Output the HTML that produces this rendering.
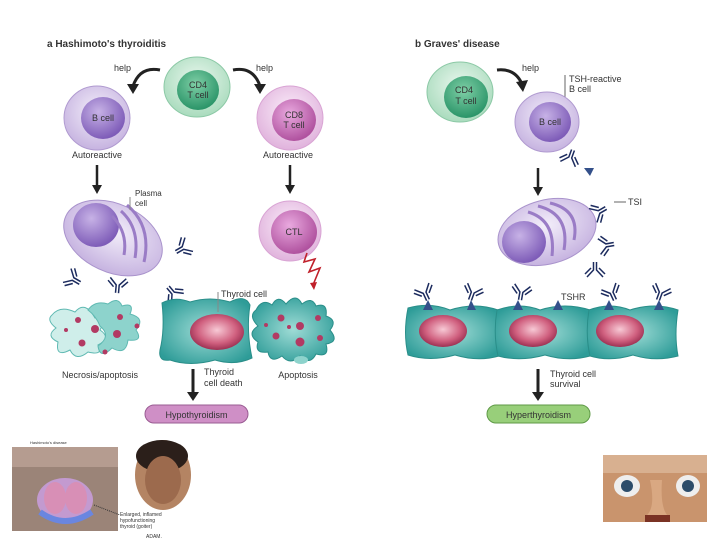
<!DOCTYPE html>
<html><head><meta charset="utf-8"><style>
html,body{margin:0;padding:0;background:#fff;width:720px;height:540px;overflow:hidden}
svg{display:block}
text{font-family:"Liberation Sans",sans-serif;fill:#333}
</style></head><body>
<svg width="720" height="540" viewBox="0 0 720 540" xmlns="http://www.w3.org/2000/svg">
<defs>
<radialGradient id="gOut" cx="50%" cy="40%" r="60%"><stop offset="0" stop-color="#eaf7ee"/><stop offset="1" stop-color="#a9dbbd"/></radialGradient>
<radialGradient id="gIn" cx="45%" cy="35%" r="65%"><stop offset="0" stop-color="#7fcfa6"/><stop offset="1" stop-color="#2a9468"/></radialGradient>
<radialGradient id="pOut" cx="50%" cy="40%" r="60%"><stop offset="0" stop-color="#f3eefa"/><stop offset="1" stop-color="#c6b3e0"/></radialGradient>
<radialGradient id="pIn" cx="40%" cy="35%" r="65%"><stop offset="0" stop-color="#c7b2e6"/><stop offset="1" stop-color="#7e5cb8"/></radialGradient>
<radialGradient id="mOut" cx="50%" cy="40%" r="60%"><stop offset="0" stop-color="#fbeefa"/><stop offset="1" stop-color="#e0b2dc"/></radialGradient>
<radialGradient id="mIn" cx="40%" cy="35%" r="65%"><stop offset="0" stop-color="#e9a9df"/><stop offset="1" stop-color="#b0529f"/></radialGradient>
<radialGradient id="nuc" cx="50%" cy="45%" r="60%"><stop offset="0" stop-color="#f7c9d5"/><stop offset="0.6" stop-color="#d0607f"/><stop offset="1" stop-color="#8f2447"/></radialGradient>
<radialGradient id="thy" cx="50%" cy="50%" r="60%"><stop offset="0" stop-color="#9fdcd6"/><stop offset="1" stop-color="#2e9c98"/></radialGradient>
<g id="ab" stroke="#1c2b5e" stroke-width="1.5" fill="none">
<path d="M-1.5 0 V-8 L-8 -15 M1.5 0 V-8 L8 -15 M-4 -6 L-10 -12 M4 -6 L10 -12"/>
</g>
<marker id="ah" markerWidth="8" markerHeight="8" refX="4" refY="4" orient="auto"><path d="M0 0 L8 4 L0 8 z" fill="#222"/></marker>
</defs>

<!-- ===== a ===== -->
<text x="47" y="47" font-size="10" font-weight="bold" fill="#222">a  Hashimoto's thyroiditis</text>
<text x="114" y="71" font-size="9">help</text>
<text x="256" y="71" font-size="9">help</text>
<path d="M160 70 Q140 66 133 86" stroke="#222" stroke-width="3" fill="none"/>
<path d="M127 84 L133 94 L139 84z" fill="#222"/>
<path d="M233 70 Q253 66 260 86" stroke="#222" stroke-width="3" fill="none"/>
<path d="M254 84 L260 94 L266 84z" fill="#222"/>

<ellipse cx="197" cy="87" rx="33" ry="30" fill="url(#gOut)" stroke="#8cc9a6"/>
<ellipse cx="198" cy="90" rx="21" ry="20" fill="url(#gIn)"/>
<text x="198" y="88" font-size="9" text-anchor="middle" fill="#1d3f2d">CD4</text>
<text x="198" y="98" font-size="9" text-anchor="middle" fill="#1d3f2d">T cell</text>

<ellipse cx="97" cy="118" rx="33" ry="32" fill="url(#pOut)" stroke="#b09ad0"/>
<ellipse cx="103" cy="118" rx="22" ry="21" fill="url(#pIn)"/>
<text x="103" y="121" font-size="9" text-anchor="middle" fill="#222">B cell</text>

<ellipse cx="290" cy="118" rx="33" ry="32" fill="url(#mOut)" stroke="#d9a4d4"/>
<ellipse cx="294" cy="120" rx="22" ry="21" fill="url(#mIn)"/>
<text x="294" y="118" font-size="9" text-anchor="middle" fill="#222">CD8</text>
<text x="294" y="128" font-size="9" text-anchor="middle" fill="#222">T cell</text>

<text x="97" y="158" font-size="9" text-anchor="middle">Autoreactive</text>
<text x="288" y="158" font-size="9" text-anchor="middle">Autoreactive</text>
<path d="M97 165 V186" stroke="#222" stroke-width="2.5"/><path d="M92 185 L97 194 L102 185z" fill="#222"/>
<path d="M290 165 V186" stroke="#222" stroke-width="2.5"/><path d="M285 185 L290 194 L295 185z" fill="#222"/>

<!-- plasma cell -->
<ellipse cx="113" cy="238" rx="52" ry="34" transform="rotate(25 113 238)" fill="url(#pOut)" stroke="#a993cc"/>
<ellipse cx="96" cy="225" rx="23" ry="22" fill="url(#pIn)"/>
<g stroke="#9a7cc6" stroke-width="3" fill="none">
<path d="M121 211 Q140 228 135 258"/><path d="M127 205 Q152 226 144 262"/><path d="M112 216 Q128 232 124 255"/>
</g>
<line x1="130" y1="197" x2="130" y2="210" stroke="#888"/>
<text x="135" y="196" font-size="8">Plasma</text>
<text x="135" y="206" font-size="8">cell</text>

<!-- CTL -->
<ellipse cx="290" cy="231" rx="31" ry="30" fill="url(#mOut)" stroke="#d9a4d4"/>
<ellipse cx="294" cy="232" rx="23" ry="22" fill="url(#mIn)"/>
<text x="294" y="235" font-size="9" text-anchor="middle" fill="#222">CTL</text>
<path d="M307 253 L304 262 L315 259 L309 272 L320 268 L313 285" stroke="#c0202a" stroke-width="1.6" fill="none"/>
<path d="M310 283 L314 290 L317 282z" fill="#c0202a"/>

<!-- antibodies a -->
<use href="#ab" transform="translate(80,283) rotate(-60)"/>
<use href="#ab" transform="translate(117,293) rotate(5)"/>
<use href="#ab" transform="translate(176,252) rotate(60)"/>
<use href="#ab" transform="translate(168,287) rotate(140)"/>

<!-- necrosis -->
<g fill="#cfeeea" stroke="#5fb9b2" stroke-width="1">
<path d="M52 315 Q60 305 75 312 Q85 300 95 318 Q110 312 100 330 Q112 338 98 345 Q104 356 88 352 Q76 362 70 350 Q55 358 58 342 Q45 336 56 328 Q46 320 52 315z"/>
<path d="M88 310 Q95 300 108 304 Q118 296 122 306 Q135 302 130 314 Q146 318 136 330 Q144 342 128 340 Q126 356 112 348 Q100 360 98 346 Q112 336 100 326 Q96 316 88 310z" fill="#8dd3cc"/>
</g>
<g fill="#b23a63"><circle cx="78" cy="320" r="3"/><circle cx="95" cy="329" r="4"/><circle cx="120" cy="317" r="3"/><circle cx="117" cy="334" r="4"/><circle cx="82" cy="343" r="3.5"/><circle cx="137" cy="326" r="2.5"/><circle cx="105" cy="352" r="2.5"/><circle cx="66" cy="330" r="2"/></g>

<!-- thyroid cell a -->
<path d="M162 303 Q175 296 190 302 Q210 296 230 302 Q245 294 250 305 Q246 330 252 358 Q235 366 215 360 Q190 367 170 360 Q158 362 160 350 Q165 330 162 303z" fill="url(#thy)" stroke="#2a8e89"/>
<ellipse cx="217" cy="332" rx="27" ry="18" fill="url(#nuc)"/>
<line x1="218" y1="292" x2="218" y2="312" stroke="#888"/>
<text x="221" y="297" font-size="9">Thyroid cell</text>

<!-- apoptosis -->
<path d="M256 310 Q262 298 272 305 Q278 294 286 304 Q296 292 302 304 Q312 296 316 306 Q328 302 326 316 Q338 320 330 330 Q340 342 326 344 Q330 358 316 354 Q310 366 300 356 Q290 366 282 356 Q270 364 268 352 Q254 354 258 342 Q246 334 258 326 Q248 316 256 310z" fill="url(#thy)" stroke="#2a8e89"/>
<ellipse cx="301" cy="360" rx="7" ry="4" fill="#8dd3cc"/>
<g fill="#b23a63"><circle cx="281" cy="318" r="3.5"/><circle cx="300" cy="326" r="4"/><circle cx="318" cy="318" r="3"/><circle cx="276" cy="336" r="3.5"/><circle cx="300" cy="342" r="4.5"/><circle cx="320" cy="338" r="3"/><circle cx="289" cy="327" r="2"/><circle cx="266" cy="325" r="2"/></g>

<text x="100" y="378" font-size="9" text-anchor="middle">Necrosis/apoptosis</text>
<text x="204" y="375" font-size="9">Thyroid</text>
<text x="204" y="386" font-size="9">cell death</text>
<text x="298" y="378" font-size="9" text-anchor="middle">Apoptosis</text>
<path d="M193 369 V393" stroke="#222" stroke-width="3"/><path d="M187 392 L193 401 L199 392z" fill="#222"/>
<rect x="145" y="405" width="103" height="18" rx="9" fill="#cf8fc6" stroke="#9a5c93"/>
<text x="196.5" y="418" font-size="9" text-anchor="middle" fill="#222">Hypothyroidism</text>

<!-- ===== b ===== -->
<text x="415" y="47" font-size="10" font-weight="bold" fill="#222">b  Graves' disease</text>
<ellipse cx="460" cy="92" rx="33" ry="30" fill="url(#gOut)" stroke="#8cc9a6"/>
<ellipse cx="466" cy="97" rx="22" ry="21" fill="url(#gIn)"/>
<text x="464" y="93" font-size="9" text-anchor="middle" fill="#1d3f2d">CD4</text>
<text x="466" y="104" font-size="9" text-anchor="middle" fill="#1d3f2d">T cell</text>
<text x="522" y="71" font-size="9">help</text>
<path d="M497 70 Q515 68 522 84" stroke="#222" stroke-width="3" fill="none"/>
<path d="M516 82 L523 92 L528 80z" fill="#222"/>
<line x1="565" y1="75" x2="565" y2="97" stroke="#666"/>
<text x="569" y="82" font-size="9">TSH-reactive</text>
<text x="569" y="92" font-size="9">B cell</text>
<ellipse cx="547" cy="122" rx="32" ry="30" fill="url(#pOut)" stroke="#b09ad0"/>
<ellipse cx="550" cy="122" rx="21" ry="20" fill="url(#pIn)"/>
<text x="550" y="125" font-size="9" text-anchor="middle" fill="#222">B cell</text>
<use href="#ab" transform="translate(573,150) rotate(200)"/>
<path d="M584 168 L594 168 L590 176z" fill="#34508a"/>
<path d="M538 168 V188" stroke="#222" stroke-width="2.5"/><path d="M533 187 L538 196 L543 187z" fill="#222"/>

<ellipse cx="547" cy="232" rx="50" ry="32" transform="rotate(-15 547 232)" fill="url(#pOut)" stroke="#a993cc"/>
<ellipse cx="524" cy="242" rx="22" ry="21" fill="url(#pIn)"/>
<g stroke="#9a7cc6" stroke-width="3" fill="none">
<path d="M528 212 Q556 220 552 256"/><path d="M538 206 Q570 214 564 250"/><path d="M550 203 Q580 210 574 240"/>
</g>
<use href="#ab" transform="translate(606,208) rotate(-120)"/>
<text x="628" y="205" font-size="9">TSI</text>
<line x1="614" y1="202" x2="626" y2="202" stroke="#666"/>
<use href="#ab" transform="translate(614,244) rotate(-100)"/>
<use href="#ab" transform="translate(595,262) rotate(180)"/>

<!-- thyroid row -->
<g stroke="#2a8e89" fill="url(#thy)">
<path d="M408 308 Q430 302 450 310 Q475 302 498 310 Q494 335 499 356 Q478 362 455 355 Q430 362 408 355 Q403 333 408 308z"/>
<path d="M497 310 Q520 302 540 310 Q565 302 590 310 Q585 335 590 356 Q568 362 545 355 Q520 362 498 356 Q493 333 497 310z"/>
<path d="M589 310 Q610 302 630 310 Q655 302 678 310 Q674 335 678 356 Q655 362 633 355 Q610 362 590 356 Q585 333 589 310z"/>
</g>
<ellipse cx="443" cy="331" rx="24" ry="16" fill="url(#nuc)"/>
<ellipse cx="533" cy="331" rx="24" ry="16" fill="url(#nuc)"/>
<ellipse cx="620" cy="331" rx="24" ry="16" fill="url(#nuc)"/>
<g fill="#34508a">
<path d="M423 310 L428 300 L433 310z"/><path d="M467 310 L471 300 L476 310z"/><path d="M513 310 L518 300 L523 310z"/><path d="M553 310 L558 300 L563 310z"/><path d="M604 310 L609 300 L614 310z"/><path d="M654 310 L659 300 L664 310z"/>
</g>
<use href="#ab" transform="translate(428,300) rotate(-25)"/>
<use href="#ab" transform="translate(470,300) rotate(20)"/>
<use href="#ab" transform="translate(520,300) rotate(10)"/>
<use href="#ab" transform="translate(615,300) rotate(-25)"/>
<use href="#ab" transform="translate(658,300) rotate(20)"/>
<text x="561" y="300" font-size="9">TSHR</text>

<path d="M538 369 V393" stroke="#222" stroke-width="3"/><path d="M532 392 L538 401 L544 392z" fill="#222"/>
<text x="550" y="377" font-size="9">Thyroid cell</text>
<text x="550" y="387" font-size="9">survival</text>
<rect x="487" y="405" width="103" height="18" rx="9" fill="#98cf7a" stroke="#5f9a47"/>
<text x="538.5" y="418" font-size="9" text-anchor="middle" fill="#222">Hyperthyroidism</text>

<!-- bottom photos -->
<rect x="12" y="447" width="106" height="84" fill="#9b8478"/>
<rect x="12" y="447" width="106" height="20" fill="#b59c90"/>
<ellipse cx="65" cy="500" rx="28" ry="22" fill="#c39ad0"/>
<ellipse cx="55" cy="498" rx="11" ry="16" fill="#d88fb6"/>
<ellipse cx="76" cy="498" rx="11" ry="16" fill="#d88fb6"/>
<path d="M40 512 Q65 530 92 512" stroke="#6a86e0" stroke-width="6" fill="none"/>
<text x="30" y="444" font-size="4" fill="#333">Hashimoto's disease</text>
<ellipse cx="163" cy="475" rx="28" ry="35" fill="#b48463"/>
<ellipse cx="162" cy="456" rx="26" ry="16" fill="#2b1f1a"/>
<ellipse cx="163" cy="480" rx="18" ry="24" fill="#9c6a4d"/>
<text x="120" y="516" font-size="5">Enlarged, inflamed</text>
<text x="120" y="522" font-size="5">hypofunctioning</text>
<text x="120" y="528" font-size="5">thyroid (goiter)</text>
<text x="146" y="538" font-size="5" fill="#2a8">ADAM.</text>
<line x1="94" y1="505" x2="120" y2="515" stroke="#333" stroke-dasharray="1,1"/>

<rect x="603" y="455" width="104" height="67" fill="#c9946d"/>
<rect x="603" y="455" width="104" height="18" fill="#d8b090"/>
<ellipse cx="627" cy="486" rx="13" ry="11" fill="#eee"/>
<ellipse cx="688" cy="486" rx="12" ry="11" fill="#eee"/>
<circle cx="627" cy="486" r="6" fill="#2c4c6a"/>
<circle cx="688" cy="486" r="6" fill="#2c4c6a"/>
<path d="M650 480 Q656 508 646 516 Q657 524 668 516 Q660 508 662 480z" fill="#d9a882"/>
<rect x="645" y="515" width="25" height="7" fill="#7a3224"/>
</svg>
</body></html>
